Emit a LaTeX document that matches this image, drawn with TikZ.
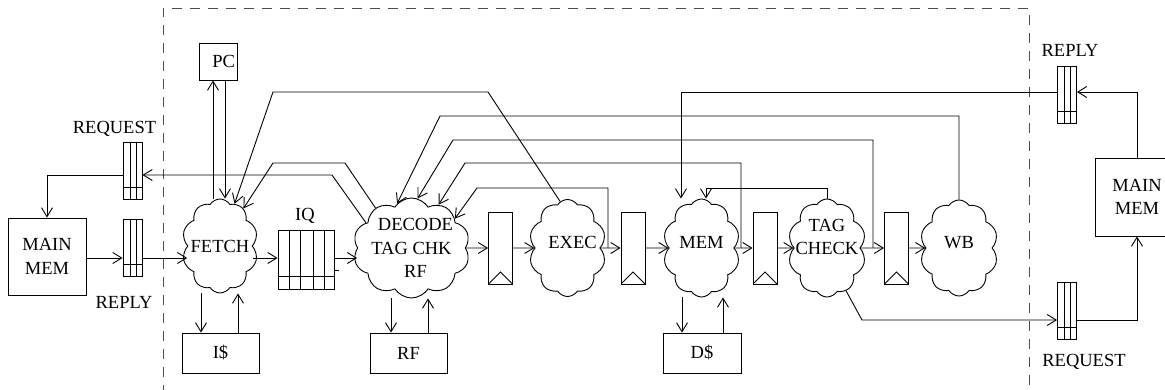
\documentclass[tikz,border=0pt]{standalone}
\usepackage{fontspec}
\setmainfont{Liberation Serif}
\usetikzlibrary{shapes.symbols,arrows.meta,calc}
\begin{document}
\begin{tikzpicture}[x=1pt,y=-1pt,
  line width=0.9pt,
  font=\fontsize{18.5}{23.5}\selectfont,
  arr/.style={-{Straight Barb[length=9pt,width=11pt,line width=0.9pt]}},
  box/.style={draw,rectangle,inner sep=0pt,align=center},
  stage/.style={draw,cloud,cloud puffs=10,cloud puff arc=115,cloud ignores aspect,inner sep=0pt},
  queue/.style={draw,rectangle,inner sep=0pt,minimum width=19pt,minimum height=57pt,
    path picture={
      \draw ([xshift=7pt]path picture bounding box.north west) -- ([xshift=7pt]path picture bounding box.south west)
            ([xshift=13pt]path picture bounding box.north west) -- ([xshift=13pt]path picture bounding box.south west)
            ([yshift=12pt]path picture bounding box.south west) -- ([yshift=12pt]path picture bounding box.south east);
    }},
  iqueue/.style={draw,rectangle,inner sep=0pt,minimum width=56pt,minimum height=59pt,
    path picture={
      \foreach \d in {11,22,35,46}{
        \draw ([xshift=\d pt]path picture bounding box.north west) -- ([xshift=\d pt]path picture bounding box.south west);}
      \draw ([yshift=13pt]path picture bounding box.south west) -- ([yshift=13pt]path picture bounding box.south east);
    }},
  latch/.style={draw,rectangle,inner sep=0pt,minimum width=24pt,minimum height=72pt,
    path picture={
      \draw (path picture bounding box.south west) -- ([yshift=12pt]path picture bounding box.south) -- (path picture bounding box.south east);
    }},
  frame/.style={black!70,dash pattern=on 10pt off 8pt}
]
\useasboundingbox (0,0) rectangle (1165,390);

% dashed processor boundary
\draw[frame] (163,395) -- (163,8) -- (1029,8) -- (1029,395);

% memory side, left
\node[box,minimum width=78pt,minimum height=77pt] (mainL) at (47,256.5) {MAIN\\MEM};
\node[queue] (reqL) at (132.5,170.5) {};
\node[queue] (repL) at (132.5,247.5) {};
\node (lblReqL) at (114.5,129) {REQUEST};
\node (lblRepL) at (124,302) {REPLY};

% memory side, right
\node[box,minimum width=84pt,minimum height=78pt] (mainR) at (1137,197) {MAIN\\MEM};
\node[queue] (repR) at (1067,95) {};
\node[queue] (reqR) at (1067,310.5) {};
\node (lblRepR) at (1070,50) {REPLY};
\node (lblReqR) at (1084,362) {REQUEST};

% pipeline
\node[box,minimum width=38pt,minimum height=37pt,text width=34pt,align=right] (pc) at (218,61.5) {PC};
\node[stage,minimum width=76pt,minimum height=94pt,label={center:FETCH}] (fetch) at (220,246) {};
\node[iqueue] (iq) at (306,259.5) {};
\node (lblIQ) at (305,216) {IQ};
\node[stage,minimum width=117pt,minimum height=100pt,
  label={[align=center]center:\hspace*{8pt}DECODE\\TAG CHK\\\hspace*{8pt}RF}] (decode) at (411.5,248) {};
\node[latch] (l1) at (500.5,248) {};
\node[stage,minimum width=77pt,minimum height=97pt,label={[xshift=5pt,yshift=6pt]center:EXEC}] (exec) at (567.5,248) {};
\node[latch] (l2) at (633,248) {};
\node[stage,minimum width=77pt,minimum height=98pt,label={[yshift=6pt]center:MEM}] (mem) at (701.5,248) {};
\node[latch] (l3) at (765,248) {};
\node[stage,minimum width=78pt,minimum height=98pt,label={[align=center,yshift=11pt]center:TAG\\CHECK}] (tag) at (827,248) {};
\node[latch] (l4) at (896.5,248) {};
\node[stage,minimum width=78pt,minimum height=96pt,label={[yshift=5pt]center:WB}] (wb) at (959,248) {};

% caches and register file
\node[box,minimum width=77pt,minimum height=40pt] (icache) at (220.5,353) {I\$};
\node[box,minimum width=77pt,minimum height=40pt] (rf) at (408.5,353) {RF};
\node[box,minimum width=78pt,minimum height=40pt] (dcache) at (702,353) {D\$};

% tap points on the pipeline wires
\coordinate (tapE) at (608,248);
\coordinate (tapM) at (741,248);
\coordinate (tapT) at (873,248);

% main data path
\draw[arr] (mainL.east |- 0,258) -- (repL.west |- 0,258);
\draw[arr] (repL.east |- 0,258) -- (fetch.west |- 0,258);
\draw[arr] (fetch.east |- 0,258) -- (iq.west |- 0,258);
\draw[arr] (iq.east |- 0,258) -- (decode.west |- 0,258);
\draw (iq.east |- 0,270) -- ++(5,0);
\draw[arr] (decode.east) -- (l1.west);
\draw[arr] (l1.east) -- (exec.west);
\draw[arr] (exec.east) -- (l2.west);
\draw[arr] (l2.east) -- (mem.west);
\draw[arr] (mem.east) -- (l3.west);
\draw[arr] (l3.east) -- (tag.west);
\draw[arr] (tag.east) -- (l4.west);
\draw[arr] (l4.east) -- (wb.west);

% PC
\draw[arr] (fetch.north -| 213,0) -- (pc.south -| 213,0);
\draw[arr] (pc.south -| 225,0) -- (fetch.north -| 225,0);

% caches
\draw[arr] (fetch.south -| 201,0) -- (icache.north -| 201,0);
\draw[arr] (icache.north -| 238,0) -- (fetch.south -| 238,0);
\draw[arr] (decode.south -| 391,0) -- (rf.north -| 391,0);
\draw[arr] (rf.north -| 428,0) -- (decode.south -| 428,0);
\draw[arr] (mem.south -| 682,0) -- (dcache.north -| 682,0);
\draw[arr] (dcache.north -| 723,0) -- (mem.south -| 723,0);

% requests and replies, left
\draw[arr] (decode.151) -- (332,175) -- (reqL.east |- 0,175);
\draw[arr] (reqL.west |- 0,175) -- (mainL.north |- 0,175) -- (mainL.north);

% redirects to fetch
\draw[arr] (exec.99) -- (488,92) -- (273,92) -- (fetch.71);
\draw[arr] (decode.132) -- (345,163) -- (273,163) -- (fetch.58);

% bypasses to decode
\draw[arr] (wb.north) |- (440,116) -- (decode.108);
\draw[arr] (tapT) |- (453,140) -- (decode.83);
\draw[arr] (tapM) |- (465,163) -- (decode.58);
\draw[arr] (tapE) |- (477,188) -- (decode.34);

% tag check to mem
\draw[arr] (tag.north) |- (706,188) -- (mem.north -| 706,0);

% requests and replies, right
\draw[arr] (tag.294) -- (862,320) -- (reqR.west |- 0,320);
\draw[arr] (reqR.east |- 0,320) -| (mainR.south);
\draw[arr] (mainR.north) |- (repR.east |- 0,92);
\draw[arr] (repR.west |- 0,92) -- (681,92) -- (mem.north -| 681,0);
\end{tikzpicture}
\end{document}
